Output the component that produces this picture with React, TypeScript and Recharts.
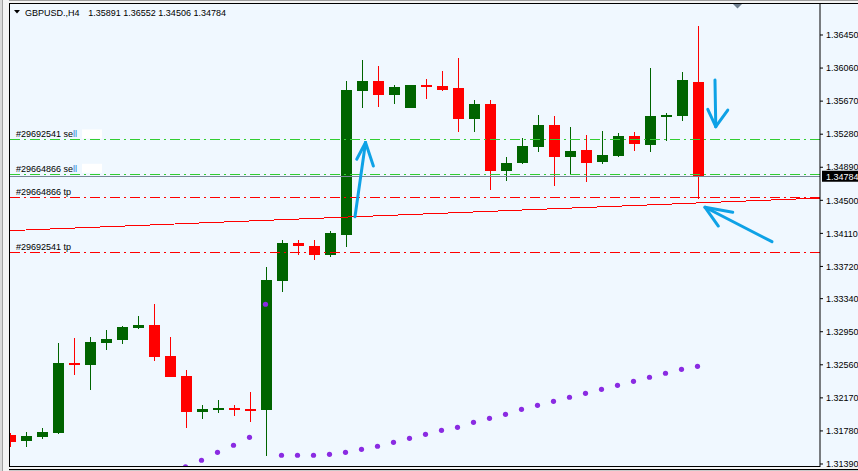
import React from 'react';
import { ComposedChart, Bar, Line, XAxis, YAxis, ReferenceLine } from 'recharts';

const W = 858;
const H = 471;
const FONT = "'Liberation Sans', Arial, sans-serif";
const UP = '#006400';
const DOWN = '#ff0000';

// GBPUSD H4 candles
const opens = [
  1.31732, 1.31661, 1.31708, 1.31756, 1.32581, 1.32558, 1.32817, 1.32853, 1.32994, 1.33029,
  1.32664, 1.32428, 1.32003, 1.32027, 1.3205, 1.32039, 1.32027, 1.33548, 1.33997, 1.33961,
  1.33855, 1.34091, 1.35789, 1.35907, 1.35742, 1.35589, 1.3586, 1.35848, 1.35825, 1.35459,
  1.35636, 1.34846, 1.3494, 1.35129, 1.35388, 1.35011, 1.35094, 1.34952, 1.35023, 1.35259,
  1.35153, 1.35483, 1.35495, 1.35891,
];
const highs = [
  1.31756, 1.31767, 1.31815, 1.32817, 1.32876, 1.32888, 1.3297, 1.33018, 1.33136, 1.33277,
  1.32888, 1.32499, 1.32086, 1.32145, 1.32086, 1.32239, 1.33714, 1.34032, 1.34032, 1.34032,
  1.34138, 1.35907, 1.36155, 1.36084, 1.3586, 1.3586, 1.35931, 1.36025, 1.36179, 1.35683,
  1.35683, 1.35011, 1.35235, 1.35506, 1.35495, 1.35365, 1.3527, 1.35318, 1.35294, 1.35306,
  1.36061, 1.3553, 1.36014, 1.36552,
];
const lows = [
  1.3159, 1.3159, 1.31685, 1.31744, 1.3244, 1.32263, 1.32735, 1.32805, 1.32982, 1.32605,
  1.32416, 1.31815, 1.31921, 1.31991, 1.31956, 1.31885, 1.31484, 1.33419, 1.33855, 1.33796,
  1.33832, 1.33949, 1.35589, 1.35601, 1.35636, 1.35589, 1.35695, 1.35789, 1.35306, 1.35306,
  1.34622, 1.34728, 1.34928, 1.3507, 1.34669, 1.34799, 1.34716, 1.34928, 1.35011, 1.35082,
  1.3507, 1.352, 1.35436, 1.34506,
];
const closes = [
  1.31649, 1.3172, 1.31767, 1.32581, 1.32558, 1.32829, 1.32864, 1.33006, 1.33029, 1.32652,
  1.32416, 1.32003, 1.32039, 1.3205, 1.32027, 1.32027, 1.3356, 1.33997, 1.33961, 1.33855,
  1.34115, 1.35801, 1.35907, 1.35742, 1.35837, 1.3586, 1.35837, 1.35801, 1.35459, 1.35636,
  1.34846, 1.3494, 1.35141, 1.35388, 1.35011, 1.35082, 1.3494, 1.35035, 1.35259, 1.35164,
  1.35495, 1.35506, 1.35919, 1.34784,
];

// purple dot indicator, starts at candle 11
const sarFrom = 11;
const sarDots = [
  1.31355, 1.31434, 1.31528, 1.31611, 1.31705, 1.33274, 1.31493, 1.31493, 1.31493, 1.31504,
  1.31528, 1.31563, 1.31599, 1.31646, 1.31693, 1.3174, 1.31787, 1.31823, 1.31882, 1.31929,
  1.31976, 1.32035, 1.32082, 1.32129, 1.32177, 1.32224, 1.32271, 1.32318, 1.32365, 1.32413,
  1.3246, 1.32507, 1.32542,
];

const priceTicks = [
  1.3139, 1.3178, 1.3217, 1.3256, 1.3295, 1.3334, 1.3372, 1.3411, 1.345, 1.3489, 1.3528,
  1.3567, 1.3606, 1.3645,
];

const orderLines = [
  { name: '#29692541 sell', price: 1.35212, color: '#32cd32', picked: true },
  { name: '#29664866 sell', price: 1.34807, color: '#32cd32', picked: true },
  { name: '#29664866 tp', price: 1.34531, color: '#ff0000', picked: false },
  { name: '#29692541 tp', price: 1.33882, color: '#ff0000', picked: false },
];
const bidPrice = 1.34784;
const trendStart = [-0.09375, 1.34142];
const trendEnd = [50.59375, 1.34527];

// hand drawn arrows: [bar index, price]
const arrowMarks = [
  { tail: [21.53, 1.34307], tip: [22.19, 1.35182], wings: [[21.64, 1.34984], [22.68, 1.34905]] },
  { tail: [44.03, 1.35919], tip: [44.08, 1.35368], wings: [[43.58, 1.35574], [44.83, 1.35565]] },
  { tail: [47.59, 1.34012], tip: [43.41, 1.34418], wings: [[45.14, 1.34359], [44.24, 1.34197]] },
];

const rows = opens.map((open, i) => ({
  i,
  open,
  high: highs[i],
  low: lows[i],
  close: closes[i],
  range: [lows[i], highs[i]],
  sar: i >= sarFrom ? sarDots[i - sarFrom] : null,
}));

function Candle(props: any) {
  const { x, y, width, height, payload } = props;
  if (payload == null || y == null) return <g />;
  const top = Math.min(y, y + height);
  const bottom = Math.max(y, y + height);
  const span = payload.high - payload.low || 1e-9;
  const py = (p: number) => top + ((payload.high - p) / span) * (bottom - top);
  const cx = Math.floor(x + width / 2);
  const color = payload.close >= payload.open ? UP : DOWN;
  const bTop = Math.round(py(Math.max(payload.open, payload.close)));
  const bBot = Math.round(py(Math.min(payload.open, payload.close)));
  return (
    <g>
      <rect x={cx} y={Math.round(top)} width={1} height={Math.max(Math.round(bottom - top), 1)} fill={color} />
      <rect x={cx - 5} y={bTop} width={11} height={Math.max(bBot - bTop, 2)} fill={color} />
    </g>
  );
}

function SarDot(props: any) {
  const { cx, cy, index } = props;
  if (cy == null || isNaN(cy)) return <g key={`s${index}`} />;
  return <circle key={`s${index}`} cx={cx - 1} cy={cy} r={2.6} fill="#8a2be2" />;
}

function OrderTag(props: any) {
  const { viewBox, name, picked } = props;
  if (!viewBox) return null;
  const { x, y } = viewBox;
  return (
    <g>
      <text x={x + 7} y={y - 2.5} fontSize={9} fontFamily={FONT} fill="#000">
        {picked ? name.slice(0, -2) : name}
        {picked && <tspan fill="#1e7fd8">{name.slice(-2)}</tspan>}
      </text>
      {picked && <rect x={x + 73} y={y - 10.5} width={20} height={9} fill="#ffffff" />}
    </g>
  );
}

function BidTag(props: any) {
  const { viewBox } = props;
  if (!viewBox) return null;
  const { x, y, width } = viewBox;
  return (
    <g>
      <rect x={x + width + 2} y={y - 5.5} width={40} height={11} fill="#000" />
      <text x={x + width + 6} y={y + 3.3} fontSize={9} fontFamily={FONT} fill="#fff">
        {bidPrice.toFixed(5)}
      </text>
    </g>
  );
}

export default function App() {
  const last = opens.length - 1;
  const header = [opens[last], highs[last], lows[last], closes[last]].map((v) => v.toFixed(5)).join(' ');
  const seg = (a: number[], b: number[]) => [
    { x: a[0], y: a[1] },
    { x: b[0], y: b[1] },
  ];

  return (
    <div style={{ position: 'fixed', left: 0, top: 0, width: W, height: H, background: '#f0f8ff' }}>
      <ComposedChart width={W} height={H} data={rows} margin={{ top: 3, right: 0, bottom: 4, left: 9 }}>
        <XAxis dataKey="i" type="number" domain={[-0.09375, 50.59375]} allowDataOverflow hide />
        <YAxis
          orientation="right"
          width={38}
          domain={[1.313545, 1.368274]}
          allowDataOverflow
          ticks={priceTicks}
          interval={0}
          tickFormatter={(v: number) => v.toFixed(5)}
          tick={{ fill: '#000', fontSize: 9, fontFamily: FONT }}
          tickSize={3}
          tickMargin={3}
          axisLine={{ stroke: '#000' }}
          tickLine={{ stroke: '#000' }}
        />
        {orderLines.map((o) => (
          <ReferenceLine
            key={o.name}
            y={o.price}
            stroke={o.color}
            strokeDasharray="10 4 2 4"
            shapeRendering="crispEdges"
            label={<OrderTag name={o.name} picked={o.picked} />}
          />
        ))}
        <ReferenceLine y={bidPrice} stroke="#778899" shapeRendering="crispEdges" label={<BidTag />} />
        <ReferenceLine segment={seg(trendStart, trendEnd)} stroke="#ff0000" shapeRendering="crispEdges" ifOverflow="visible" />
        <Bar dataKey="range" barSize={11} shape={<Candle />} isAnimationActive={false} />
        <Line
          dataKey="sar"
          stroke="none"
          dot={SarDot}
          activeDot={false}
          isAnimationActive={false}
          legendType="none"
        />
        {arrowMarks.flatMap((a, k) => [
          <ReferenceLine key={`a${k}s`} segment={seg(a.tail, a.tip)} stroke="#0ea2e6" strokeWidth={3} strokeLinecap="round" ifOverflow="visible" />,
          <ReferenceLine key={`a${k}l`} segment={seg(a.wings[0], a.tip)} stroke="#0ea2e6" strokeWidth={3} strokeLinecap="round" ifOverflow="visible" />,
          <ReferenceLine key={`a${k}r`} segment={seg(a.wings[1], a.tip)} stroke="#0ea2e6" strokeWidth={3} strokeLinecap="round" ifOverflow="visible" />,
        ])}
      </ComposedChart>

      {/* window frame and header */}
      <svg width={W} height={H} style={{ position: 'absolute', left: 0, top: 0, pointerEvents: 'none' }}>
        <rect x={0} y={0} width={9} height={H} fill="#f4f4f4" />
        <rect x={0} y={0} width={2} height={H} fill="#dadada" />
        <rect x={2} y={0} width={1} height={H} fill="#a0a0a0" />
        <rect x={9} y={0} width={W - 9} height={3} fill="#f4f4f4" />
        <rect x={9} y={0} width={W - 9} height={1} fill="#a0a0a0" />
        <rect x={9} y={3} width={W - 9} height={1} fill="#000" />
        <rect x={9} y={3} width={1} height={464} fill="#000" />
        <rect x={9} y={466} width={811} height={1} fill="#000" />
        <rect x={9} y={467} width={W - 9} height={2} fill="#f4f4f4" />
        <rect x={9} y={469} width={W - 9} height={1} fill="#000" />
        <rect x={9} y={470} width={W - 9} height={1} fill="#c8c8c8" />
        <polygon points="733,4 742,4 737.5,8.5" fill="#6f7f8f" />
        <polygon points="14,10 20,10 17,13.5" fill="#000" />
        <text x={25} y={15.5} fontSize={9} fontFamily={FONT} fill="#000">
          GBPUSD.,H4
        </text>
        <text x={88.3} y={15.5} fontSize={9} fontFamily={FONT} fill="#000">
          {header}
        </text>
      </svg>
    </div>
  );
}
